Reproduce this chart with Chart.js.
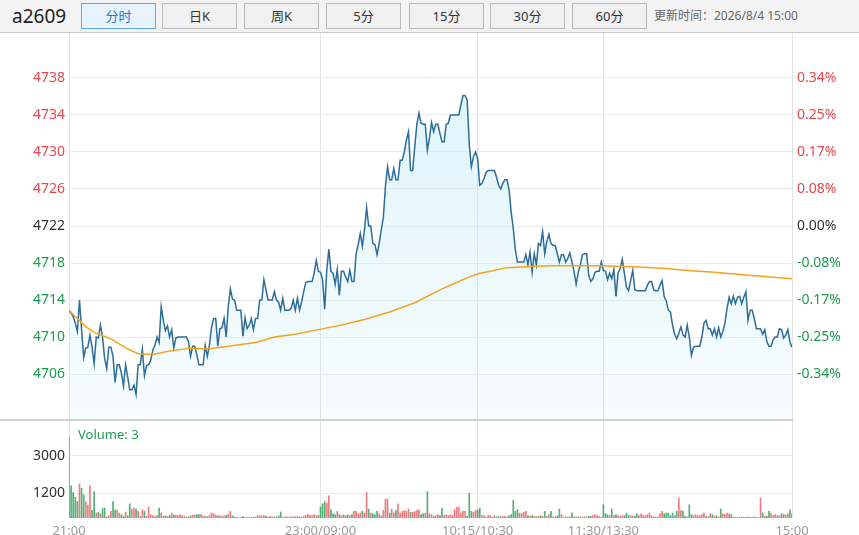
<!DOCTYPE html>
<html>
<head>
<meta charset="utf-8">
<script src="https://cdn.jsdelivr.net/npm/chart.js@4/dist/chart.umd.min.js"></script>
<style>
  html, body { margin: 0; padding: 0; background: #fff; }
  body { width: 859px; height: 535px; position: relative; overflow: hidden;
         font-family: "Noto Sans", "Noto Sans CJK SC", sans-serif; }
  #bar { position: absolute; left: 0; top: 0; width: 859px; height: 32px;
         background: #f3f3f3; border-bottom: 1px solid #c8c8c8; }
  .sym { position: absolute; left: 12px; top: 3px; font-size: 19px; line-height: 26px; color: #222; }
  .btn { position: absolute; top: 3px; width: 73px; height: 24px; border: 1px solid #b9b9b9;
         background: #f0f0f0; color: #333; font-size: 13px; line-height: 24px; text-align: center; }
  .btn.on { background: #e7f3fc; border-color: #5ba8e8; color: #1f78c9; }
  .upd { position: absolute; left: 654px; top: 3px; line-height: 26px; font-size: 12px; color: #666; }
  #pricebox { position: absolute; left: 0; top: 33px; width: 859px; height: 386px; }
  #divider { position: absolute; left: 0; top: 419px; width: 793px; height: 2px; background: #cfcfcf; }
  #volbox { position: absolute; left: 0; top: 421px; width: 859px; height: 114px; }
  #vollabel { position: absolute; left: 78px; top: 425px; font-size: 13px; color: #1f9a55; }
</style>
</head>
<body>
<div id="bar">
  <div class="sym">a2609</div>
  <div class="btn on" style="left:81px">分时</div>
  <div class="btn" style="left:162px">日K</div>
  <div class="btn" style="left:244px">周K</div>
  <div class="btn" style="left:326px">5分</div>
  <div class="btn" style="left:409px">15分</div>
  <div class="btn" style="left:490px">30分</div>
  <div class="btn" style="left:572px">60分</div>
  <div class="upd">更新时间：2026/8/4 15:00</div>
</div>
<div id="pricebox"><canvas id="priceChart"></canvas></div>
<div id="divider"></div>
<div id="volbox"><canvas id="volChart"></canvas></div>
<div id="vollabel">Volume: 3</div>

<script>
// =========================
// DATA (one value per minute, 21:00 -> 15:00)
// =========================
const prevClose = 4722;

const price = [
  4712.9, 4712.6, 4712.2, 4711.5, 4710.6, 4714.0, 4710.8, 4707.8, 4708.8, 4708.9,
  4710.2, 4708.9, 4707.1, 4710.0, 4709.9, 4711.3, 4710.0, 4707.7, 4706.6, 4708.9,
  4708.9, 4707.9, 4705.1, 4707.0, 4707.0, 4706.1, 4704.7, 4707.0, 4705.7, 4704.3,
  4704.3, 4704.8, 4703.8, 4707.0, 4707.0, 4708.7, 4705.8, 4706.9, 4707.0, 4707.5,
  4708.6, 4709.1, 4710.0, 4709.4, 4713.3, 4711.8, 4710.7, 4711.2, 4710.0, 4710.8,
  4708.8, 4709.9, 4710.0, 4710.0, 4710.0, 4710.0, 4710.0, 4709.5, 4707.9, 4709.0,
  4709.0, 4708.1, 4707.0, 4707.0, 4707.0, 4709.1, 4707.9, 4709.1, 4711.0, 4712.0,
  4712.0, 4709.0, 4710.9, 4711.0, 4712.0, 4710.0, 4713.3, 4715.2, 4714.1, 4714.0,
  4712.9, 4712.9, 4712.9, 4710.1, 4712.1, 4710.9, 4711.3, 4712.0, 4710.8, 4712.0,
  4712.0, 4714.0, 4714.0, 4716.2, 4715.1, 4714.0, 4714.0, 4714.0, 4714.9, 4714.0,
  4713.8, 4712.9, 4714.2, 4712.9, 4712.9, 4712.9, 4713.1, 4714.0, 4712.9, 4714.2,
  4712.9, 4713.8, 4714.9, 4715.9, 4716.0, 4716.0, 4716.0, 4716.9, 4718.3, 4717.1,
  4717.0, 4716.2, 4713.0, 4717.2, 4719.5, 4717.1, 4716.9, 4715.7, 4717.3, 4714.5,
  4717.1, 4717.1, 4716.5, 4716.0, 4717.2, 4716.0, 4716.0, 4719.0, 4720.0, 4721.2,
  4719.8, 4721.6, 4724.0, 4722.0, 4722.0, 4720.1, 4720.0, 4718.9, 4720.1, 4721.6,
  4722.9, 4726.3, 4728.4, 4727.0, 4727.0, 4728.2, 4727.0, 4727.0, 4729.1, 4729.1,
  4730.0, 4731.3, 4732.2, 4728.0, 4728.0, 4730.6, 4733.0, 4734.2, 4733.1, 4733.0,
  4733.0, 4730.2, 4731.5, 4733.2, 4732.2, 4733.0, 4733.0, 4732.0, 4731.1, 4731.1,
  4733.0, 4733.1, 4734.0, 4734.0, 4734.0, 4734.0, 4734.0, 4735.1, 4736.1, 4736.1,
  4735.6, 4730.8, 4728.4, 4729.5, 4730.0, 4729.3, 4726.4, 4726.6, 4727.1, 4727.8,
  4728.0, 4728.0, 4728.0, 4728.0, 4727.3, 4726.4, 4726.0, 4726.6, 4727.0, 4727.0,
  4725.9, 4723.5, 4721.7, 4719.4, 4718.1, 4718.1, 4718.1, 4718.1, 4718.9, 4717.8,
  4719.2, 4717.0, 4719.0, 4717.8, 4720.1, 4719.9, 4721.4, 4719.0, 4720.3, 4721.1,
  4720.1, 4719.9, 4719.9, 4719.0, 4718.1, 4718.9, 4718.9, 4718.1, 4718.5, 4719.1,
  4718.1, 4717.1, 4715.7, 4717.0, 4717.8, 4718.9, 4719.0, 4719.0, 4716.7, 4716.0,
  4716.3, 4717.0, 4717.1, 4717.1, 4718.1, 4717.2, 4717.1, 4716.2, 4716.9, 4716.3,
  4717.3, 4714.4, 4716.9, 4717.4, 4718.4, 4716.9, 4715.4, 4715.0, 4716.1, 4717.2,
  4715.1, 4715.0, 4715.0, 4715.0, 4715.0, 4715.0, 4715.6, 4716.0, 4716.0, 4715.1,
  4715.0, 4715.0, 4715.6, 4716.1, 4714.4, 4713.9, 4712.9, 4712.7, 4711.3, 4710.3,
  4709.8, 4710.4, 4711.1, 4710.2, 4710.0, 4711.3, 4710.0, 4708.0, 4708.9, 4709.0,
  4709.0, 4709.0, 4710.0, 4711.5, 4711.8, 4710.9, 4710.9, 4710.2, 4710.9, 4710.0,
  4711.0, 4710.0, 4710.6, 4711.5, 4713.1, 4714.3, 4713.6, 4714.4, 4713.6, 4714.3,
  4714.4, 4713.6, 4714.3, 4714.9, 4711.8, 4712.9, 4712.9, 4712.0, 4710.9, 4710.9,
  4710.9, 4710.3, 4710.8, 4709.5, 4709.0, 4709.0, 4709.7, 4710.0, 4710.0, 4710.9,
  4710.8, 4709.9, 4710.2, 4710.8, 4709.5, 4708.9
];

// average price line, read at a few minutes
const avgMinutes = [0, 3, 5, 8, 13, 20, 28, 33, 40, 48, 58, 66, 76, 89, 98, 108, 119, 130, 141, 153,
  165, 178, 182, 191, 196, 201, 209, 218, 230, 240, 253, 269, 285, 295, 308, 323, 345];
const avgValues = [4712.9, 4712.2, 4711.8, 4711.1, 4710.4, 4709.8, 4708.7, 4708.2, 4708.1, 4708.5,
  4708.8, 4708.7, 4709.0, 4709.4, 4710.0, 4710.3, 4710.8, 4711.3, 4711.9, 4712.7,
  4713.7, 4715.2, 4715.6, 4716.5, 4716.9, 4717.1, 4717.5, 4717.6, 4717.7, 4717.7,
  4717.7, 4717.6, 4717.4, 4717.2, 4717.0, 4716.7, 4716.3];

const volume = [
  3910, 1548, 1229, 1000, 798, 1644, 1436, 1117, 798, 638,
  1548, 367, 1277, 240, 271, 207, 450, 479, 48, 112,
  319, 798, 400, 367, 240, 160, 80, 287, 112, 686,
  431, 479, 431, 319, 80, 400, 319, 80, 527, 160,
  112, 80, 112, 479, 240, 80, 100, 80, 120, 240,
  150, 130, 112, 150, 110, 80, 60, 48, 100, 130,
  150, 160, 160, 180, 80, 80, 60, 120, 240, 207,
  150, 112, 100, 80, 100, 120, 180, 319, 100, 48,
  30, 20, 30, 80, 30, 20, 40, 30, 40, 48,
  112, 110, 90, 112, 90, 48, 80, 60, 48, 60,
  90, 287, 40, 40, 60, 48, 60, 48, 60, 80,
  48, 48, 90, 112, 160, 130, 112, 160, 120, 112,
  527, 686, 798, 720, 1070, 400, 207, 160, 319, 160,
  112, 160, 112, 160, 112, 160, 319, 319, 207, 240,
  319, 240, 1229, 431, 240, 207, 160, 319, 207, 112,
  367, 910, 910, 240, 431, 240, 367, 686, 240, 319,
  367, 319, 431, 271, 271, 319, 367, 400, 160, 207,
  240, 1277, 200, 160, 80, 112, 160, 112, 479, 112,
  160, 112, 160, 112, 400, 527, 527, 240, 319, 319,
  80, 1197, 319, 271, 367, 400, 479, 112, 112, 48,
  112, 112, 48, 112, 48, 80, 48, 80, 80, 48,
  112, 160, 846, 319, 400, 240, 207, 271, 319, 112,
  80, 112, 80, 48, 80, 112, 80, 319, 80, 160,
  319, 48, 60, 100, 431, 160, 48, 48, 48, 60,
  240, 48, 48, 60, 48, 48, 60, 48, 80, 80,
  112, 160, 112, 80, 48, 640, 207, 160, 112, 431,
  112, 160, 112, 80, 112, 112, 240, 112, 112, 80,
  80, 207, 112, 207, 112, 112, 160, 240, 112, 48,
  48, 48, 207, 319, 207, 240, 240, 112, 240, 112,
  319, 957, 367, 319, 80, 48, 638, 160, 112, 160,
  112, 112, 160, 240, 80, 60, 207, 160, 80, 112,
  48, 431, 207, 160, 240, 207, 160, 48, 30, 48,
  30, 48, 30, 30, 48, 30, 30, 48, 30, 30,
  957, 240, 80, 80, 319, 240, 112, 160, 112, 112,
  207, 160, 160, 207, 400, 200
];

const priceTicks = [4706, 4710, 4714, 4718, 4722, 4726, 4730, 4734, 4738];
const volTicks = [1200, 3000];
const sessionTicks = [0, 120, 195, 255, 345];
const timeLabels = ["21:00", "23:00/09:00", "10:15/10:30", "11:30/13:30", "15:00"];

// =========================
// STYLE
// =========================
const UP = "#e5484d";
const DOWN = "#1f9a4e";
const FLAT = "#333";
const GRID = "#ebebeb";
const VGRID = "#e2e2e2";

Chart.defaults.font.family = '"Noto Sans", "Noto Sans CJK SC", sans-serif';
Chart.defaults.animation = false;

function tickColor(v) {
  if (v > prevClose) return UP;
  if (v < prevClose) return DOWN;
  return FLAT;
}

function setTicks(list) {
  return s => { s.ticks = list.map(v => ({ value: v })); };
}

// =========================
// PRICE CHART
// =========================
new Chart(document.getElementById("priceChart"), {
  type: "line",
  data: {
    datasets: [
      {
        data: avgMinutes.map((m, i) => ({ x: m, y: avgValues[i] })),
        borderColor: "#f2a41f",
        borderWidth: 1.5,
        pointRadius: 0,
        fill: false
      },
      {
        data: price.map((v, i) => ({ x: i, y: v })),
        borderColor: "#2d6d98",
        borderWidth: 1.5,
        pointRadius: 0,
        fill: "start",
        backgroundColor: ctx => {
          const a = ctx.chart.chartArea;
          if (!a) return "rgba(190,232,248,0.3)";
          const g = ctx.chart.ctx.createLinearGradient(0, a.top, 0, a.bottom);
          g.addColorStop(0, "rgba(190,234,248,0.55)");
          g.addColorStop(1, "rgba(190,234,248,0.12)");
          return g;
        }
      }
    ]
  },
  options: {
    responsive: true,
    maintainAspectRatio: false,
    layout: { padding: 0 },
    plugins: { legend: { display: false }, tooltip: { enabled: false } },
    scales: {
      x: {
        type: "linear",
        min: 0,
        max: 345,
        offset: false,
        afterBuildTicks: setTicks(sessionTicks),
        ticks: { display: false },
        grid: { color: VGRID, drawTicks: false },
        border: { display: false },
        afterFit: s => { s.height = 0; s.paddingLeft = 0; s.paddingRight = 0; }
      },
      y: {
        position: "left",
        min: 4701.14,
        max: 4742.86,
        afterBuildTicks: setTicks(priceTicks),
        ticks: {
          padding: 4,
          font: { size: 14 },
          color: ctx => tickColor(ctx.tick.value),
          callback: v => String(v)
        },
        grid: { color: GRID, drawTicks: false },
        border: { display: false },
        afterFit: s => { s.width = 69; s.paddingTop = 0; s.paddingBottom = 0; }
      },
      y2: {
        position: "right",
        min: 4701.14,
        max: 4742.86,
        afterBuildTicks: setTicks(priceTicks),
        ticks: {
          padding: 5,
          font: { size: 14 },
          color: ctx => tickColor(ctx.tick.value),
          callback: v => ((v - prevClose) / prevClose * 100).toFixed(2) + "%"
        },
        grid: { display: false, drawTicks: false },
        border: { display: false },
        afterFit: s => { s.width = 67; s.paddingTop = 0; s.paddingBottom = 0; }
      }
    }
  }
});

// =========================
// VOLUME CHART
// =========================
const volColors = price.map((v, i) =>
  i === 0 || v >= price[i - 1] ? "rgba(229,72,77,0.72)" : "rgba(31,154,78,0.78)"
);

new Chart(document.getElementById("volChart"), {
  type: "bar",
  data: {
    datasets: [
      {
        data: volume.map((v, i) => ({ x: i, y: v })),
        backgroundColor: volColors,
        barThickness: 1,
        borderWidth: 0
      }
    ]
  },
  options: {
    responsive: true,
    maintainAspectRatio: false,
    layout: { padding: { top: 0, right: 67, bottom: 0, left: 0 } },
    plugins: { legend: { display: false }, tooltip: { enabled: false } },
    scales: {
      x: {
        type: "linear",
        min: 0,
        max: 345,
        offset: false,
        afterBuildTicks: setTicks(sessionTicks),
        ticks: {
          autoSkip: false,
          maxRotation: 0,
          padding: 5,
          color: "#999",
          font: { size: 13 },
          callback: (v, i) => timeLabels[i]
        },
        grid: { color: VGRID, drawTicks: false, offset: false },
        border: { display: false },
        afterFit: s => { s.height = 17; s.paddingLeft = 0; s.paddingRight = 0; }
      },
      y: {
        min: 0,
        max: 4680,
        afterBuildTicks: setTicks(volTicks),
        ticks: { padding: 4, color: "#333", font: { size: 14 }, callback: v => String(v) },
        grid: { color: GRID, drawTicks: false },
        border: { display: false },
        afterFit: s => { s.width = 69; s.paddingTop = 0; s.paddingBottom = 0; }
      }
    }
  }
});
</script>
</body>
</html>
